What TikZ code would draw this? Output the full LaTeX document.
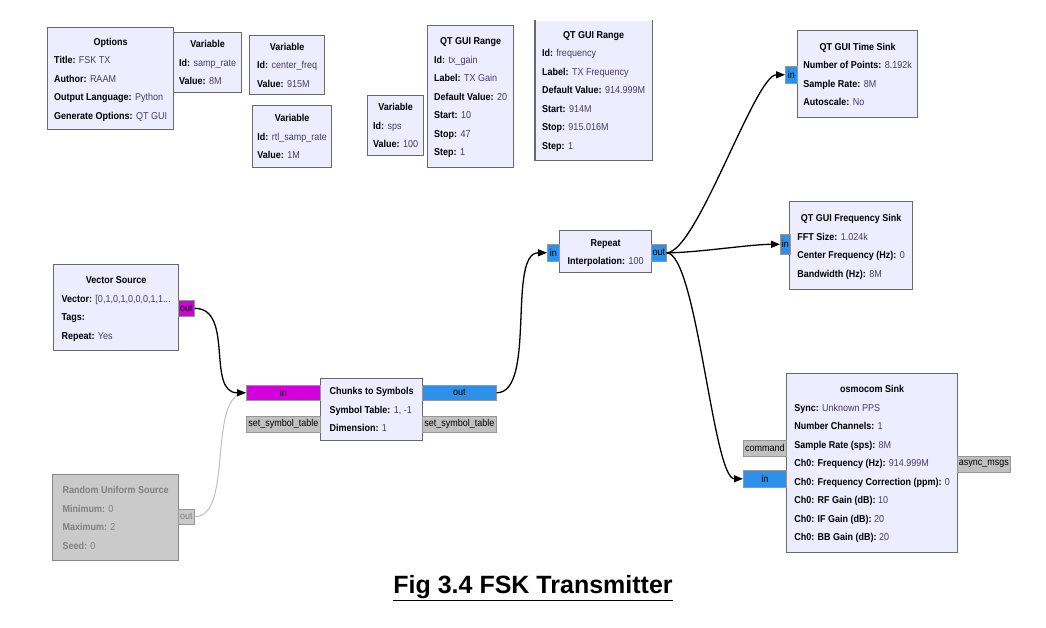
\documentclass[tikz,border=0pt]{standalone}
\usepackage{fontspec}
\setmainfont[FakeStretch=0.9]{Liberation Sans}
\newfontfamily\capfont{Liberation Sans}
\usetikzlibrary{arrows.meta}

\definecolor{boxfill}{RGB}{238,236,255}
\definecolor{boxline}{RGB}{105,105,105}
\definecolor{valcol}{RGB}{70,60,100}
\definecolor{portblue}{RGB}{45,145,235}
\definecolor{portmag}{RGB}{210,0,220}
\definecolor{portgray}{RGB}{192,192,192}
\definecolor{disfill}{RGB}{202,202,202}
\definecolor{distext}{RGB}{128,128,128}

\newcommand{\ttl}[1]{\multicolumn{1}{@{}c@{}}{\textbf{#1}}}
\newcommand{\kv}[2]{\textbf{#1:} \textcolor{valcol}{#2}}
\newcommand{\grcfont}{\fontsize{10}{18.5}\selectfont}

\begin{document}
\begin{tikzpicture}[x=1pt,y=-1pt,
    block/.style={draw=boxline, fill=boxfill, line width=1.2pt, anchor=north west,
      inner sep=0pt, font=\grcfont},
    port/.style={draw=boxline!70, line width=0.6pt, anchor=north west, inner sep=0pt,
      font=\grcfont},
    wire/.style={line width=1.3pt, -{Triangle[length=9pt,width=7pt]}}]

  \useasboundingbox (0,0) rectangle (1046,627);

  % variables and options (top row)
  \node[block, minimum width=126, minimum height=102] (opts) at (47,27)
    {\begin{tabular}{@{}l@{}}\ttl{Options}\\ \kv{Title}{FSK TX}\\ \kv{Author}{RAAM}\\
     \kv{Output Language}{Python}\\ \kv{Generate Options}{QT GUI}\end{tabular}};
  \node[block, minimum width=68, minimum height=60] (varsr) at (173,32)
    {\begin{tabular}{@{}l@{}}\ttl{Variable}\\ \kv{Id}{samp\_rate}\\ \kv{Value}{8M}\end{tabular}};
  \node[block, minimum width=75, minimum height=59] (varcf) at (249,35)
    {\begin{tabular}{@{}l@{}}\ttl{Variable}\\ \kv{Id}{center\_freq}\\ \kv{Value}{915M}\end{tabular}};
  \node[block, minimum width=79, minimum height=62] (varrtl) at (252,105)
    {\begin{tabular}{@{}l@{}}\ttl{Variable}\\ \kv{Id}{rtl\_samp\_rate}\\ \kv{Value}{1M}\end{tabular}};
  \node[block, minimum width=56, minimum height=60] (varsps) at (367,95)
    {\begin{tabular}{@{}l@{}}\ttl{Variable}\\ \kv{Id}{sps}\\ \kv{Value}{100}\end{tabular}};
  \node[block, minimum width=86, minimum height=142] (rnggain) at (427,25)
    {\begin{tabular}{@{}l@{}}\ttl{QT GUI Range}\\ \kv{Id}{tx\_gain}\\ \kv{Label}{TX Gain}\\
     \kv{Default Value}{20}\\ \kv{Start}{10}\\ \kv{Stop}{47}\\ \kv{Step}{1}\end{tabular}};
  % top edge is cut off in the screenshot
  \node[block, draw=none, minimum width=116, minimum height=139] (rngfreq) at (535,20)
    {\begin{tabular}{@{}l@{}}\ttl{QT GUI Range}\\ \kv{Id}{frequency}\\ \kv{Label}{TX Frequency}\\
     \kv{Default Value}{914.999M}\\ \kv{Start}{914M}\\ \kv{Stop}{915.016M}\\ \kv{Step}{1}\end{tabular}};
  \draw[boxline, line width=1.2pt] (rngfreq.north west) -- (rngfreq.south west)
    -- (rngfreq.south east) -- (rngfreq.north east);

  % sinks
  \node[block, minimum width=120, minimum height=87] (tsink) at (797,30)
    {\begin{tabular}{@{}l@{}}\ttl{QT GUI Time Sink}\\ \kv{Number of Points}{8.192k}\\
     \kv{Sample Rate}{8M}\\ \kv{Autoscale}{No}\end{tabular}};
  \node[port, fill=portblue, minimum width=12, minimum height=17] (tin) at (785,66) {in};

  \node[block, minimum width=123, minimum height=88] (fsink) at (789,201)
    {\begin{tabular}{@{}l@{}}\ttl{QT GUI Frequency Sink}\\ \kv{FFT Size}{1.024k}\\
     \kv{Center Frequency (Hz)}{0}\\ \kv{Bandwidth (Hz)}{8M}\end{tabular}};
  \node[port, fill=portblue, minimum width=10, minimum height=20] (fin) at (780,234) {in};

  \node[block, minimum width=171, minimum height=179] (osmo) at (786,373)
    {\begin{tabular}{@{}l@{}}\ttl{osmocom Sink}\\ \kv{Sync}{Unknown PPS}\\ \kv{Number Channels}{1}\\
     \kv{Sample Rate (sps)}{8M}\\ \kv{Ch0: Frequency (Hz)}{914.999M}\\
     \kv{Ch0: Frequency Correction (ppm)}{0}\\ \kv{Ch0: RF Gain (dB)}{10}\\
     \kv{Ch0: IF Gain (dB)}{20}\\ \kv{Ch0: BB Gain (dB)}{20}\end{tabular}};
  \node[port, fill=portgray, minimum width=43, minimum height=16] (ocmd) at (743,440) {command};
  \node[port, fill=portblue, minimum width=43, minimum height=17] (oin) at (743,470) {in};
  \node[port, fill=portgray, minimum width=53, minimum height=16] (oasync) at (957,456) {async\_msgs};

  % repeat
  \node[block, minimum width=92, minimum height=42] (rep) at (559,230)
    {\begin{tabular}{@{}l@{}}\ttl{Repeat}\\ \kv{Interpolation}{100}\end{tabular}};
  \node[port, fill=portblue, minimum width=12, minimum height=17] (rin) at (547,244) {in};
  \node[port, fill=portblue, minimum width=15, minimum height=17] (rout) at (651,244) {out};

  % sources
  \node[block, minimum width=125, minimum height=86] (vsrc) at (53,264)
    {\begin{tabular}{@{}l@{}}\ttl{Vector Source}\\ \kv{Vector}{[0,1,0,1,0,0,0,1,1...}\\
     \textbf{Tags:}\\ \kv{Repeat}{Yes}\end{tabular}};
  \node[port, fill=portmag, minimum width=16, minimum height=16] (vout) at (178,300) {out};

  \node[block, fill=disfill, draw=boxline!80, text=distext, minimum width=126, minimum height=86]
    (rsrc) at (52,474)
    {\begin{tabular}{@{}l@{}}\ttl{Random Uniform Source}\\ \textbf{Minimum:} 0\\
     \textbf{Maximum:} 2\\ \textbf{Seed:} 0\end{tabular}};
  \node[port, fill=disfill, text=distext, minimum width=16, minimum height=15] (rdout) at (178,509) {out};

  % chunks to symbols
  \node[block, minimum width=102, minimum height=62] (chunks) at (320,378)
    {\begin{tabular}{@{}l@{}}\ttl{Chunks to Symbols}\\ \kv{Symbol Table}{1, -1}\\
     \kv{Dimension}{1}\end{tabular}};
  \node[port, fill=portmag, minimum width=74, minimum height=15] (cin) at (246,385) {in};
  \node[port, fill=portblue, minimum width=74, minimum height=15] (cout) at (422,385) {out};
  \node[port, fill=portgray, minimum width=74, minimum height=16] (cset) at (246,416) {set\_symbol\_table};
  \node[port, fill=portgray, minimum width=74, minimum height=16] (cset2) at (422,416) {set\_symbol\_table};

  % connections
  \draw[line width=1pt, black!25] (rdout.east) .. controls +(40,0) and +(-40,0) .. (cin.west);
  \draw[wire] (vout.east) .. controls +(40,0) and +(-40,0) .. (cin.west);
  \draw[wire] (cout.east) .. controls +(40,0) and +(-40,0) .. (rin.west);
  \draw[wire] (rout.east) .. controls +(30,0) and +(-30,0) .. (tin.west);
  \draw[wire] (rout.east) .. controls +(30,0) and +(-30,0) .. (fin.west);
  \draw[wire] (rout.east) .. controls +(30,0) and +(-30,0) .. (oin.west);

  \node[font=\capfont\bfseries\fontsize{25}{28}\selectfont] (cap) at (533,588)
    {\underline{Fig 3.4 FSK Transmitter}};
\end{tikzpicture}
\end{document}
